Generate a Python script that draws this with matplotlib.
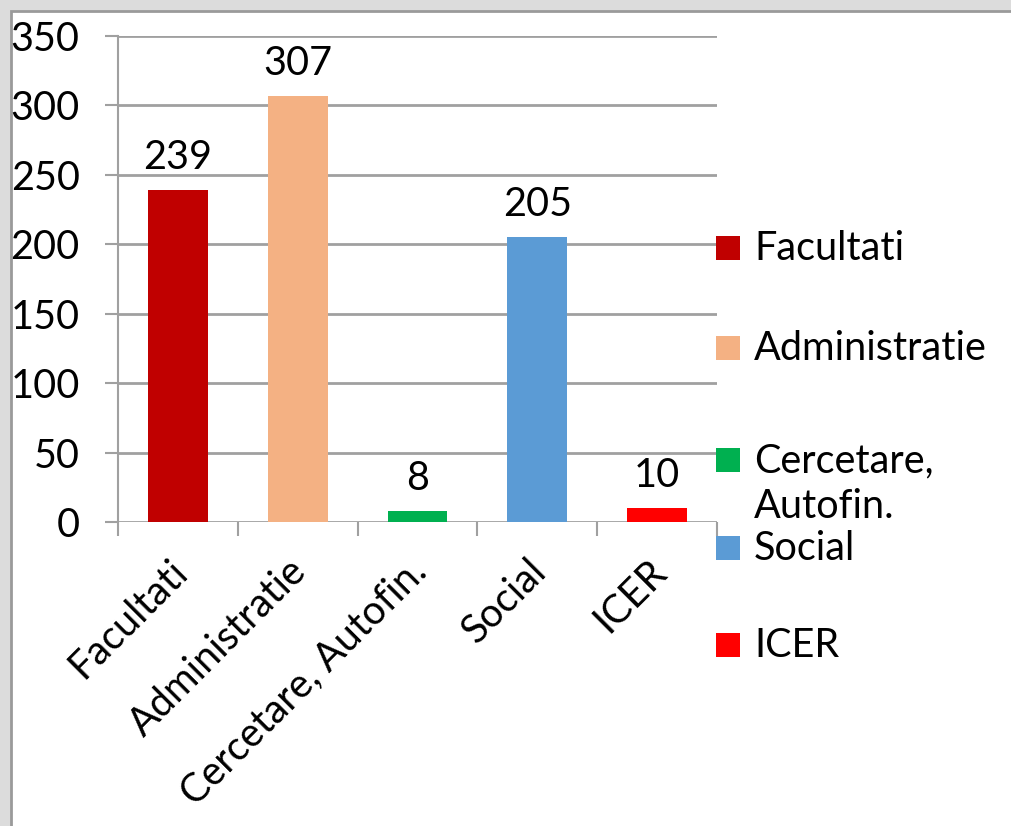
import matplotlib.pyplot as plt
from matplotlib.patches import Rectangle
from matplotlib.transforms import ScaledTranslation

# data
categories = ["Facultati", "Administratie", "Cercetare, Autofin.", "Social", "ICER"]
legend_labels = ["Facultati", "Administratie", "Cercetare,\nAutofin.", "Social", "ICER"]
values = [239, 307, 8, 205, 10]
colors = ["#C00000", "#F4B183", "#00B050", "#5B9BD5", "#FF0000"]

plt.rcParams["font.family"] = ["Lato", "DejaVu Sans"]
FS = 28.5
GRID = "#a0a0a0"

W, H = 1011, 826
fig = plt.figure(figsize=(W / 100, H / 100), dpi=100, facecolor="#dcdcdc")

# window frame of the screenshot
fig.patches.append(Rectangle((11 / W, -0.05), 1.1, 1 - 11 / H + 0.05,
                             transform=fig.transFigure, facecolor="white",
                             edgecolor="#9a9a9a", linewidth=2, zorder=-5))

ax = fig.add_axes([118 / W, 1 - 522 / H, (717 - 118) / W, (522 - 36) / H])
ax.set_facecolor("none")

x = range(len(categories))
bars = ax.bar(x, values, width=0.5, color=colors, zorder=3)
ax.set_xlim(-0.5, len(categories) - 0.5)
ax.set_ylim(0, 350)

for b, v in zip(bars, values):
    ax.annotate(str(v), (b.get_x() + b.get_width() / 2, v), xytext=(0, 10),
                textcoords="offset points", ha="center", va="bottom", fontsize=FS)

# y axis / grid
ax.set_yticks(range(0, 351, 50))
ax.yaxis.grid(True, color=GRID, linewidth=2)
ax.set_axisbelow(True)
ax.tick_params(axis="y", length=9.5, width=1.5, color=GRID, pad=18, labelsize=FS)
for s in ["top", "right", "bottom"]:
    ax.spines[s].set_visible(False)
ax.spines["left"].set_color(GRID)
ax.spines["left"].set_linewidth(1.5)

# x axis: boundary ticks as minor, labels at centers
ax.set_xticks([i - 0.5 for i in range(len(categories) + 1)], minor=True)
ax.tick_params(axis="x", which="minor", length=10, width=1.5, color=GRID)
ax.set_xticks(list(x))
ax.set_xticklabels(categories, rotation=45, ha="right", va="top",
                   rotation_mode="anchor", fontsize=FS)
ax.tick_params(axis="x", which="major", length=0, pad=22)
for lab in ax.get_xticklabels():
    lab.set_transform(lab.get_transform() + ScaledTranslation(-0.1, 0, fig.dpi_scale_trans))

# legend (drawn by hand to follow the original spacing)
legend_y = [248, 348, 460, 548, 645]
for lab, c, ly in zip(legend_labels, colors, legend_y):
    fig.patches.append(Rectangle((716 / W, 1 - (ly + 12) / H), 24 / W, 24 / H,
                                 transform=fig.transFigure, facecolor=c,
                                 edgecolor="none", zorder=5))
    fig.text(754 / W, 1 - (ly - 18) / H, lab, fontsize=FS, ha="left", va="top",
             linespacing=1.3)

fig.savefig("out.png", dpi=100, facecolor=fig.get_facecolor())
